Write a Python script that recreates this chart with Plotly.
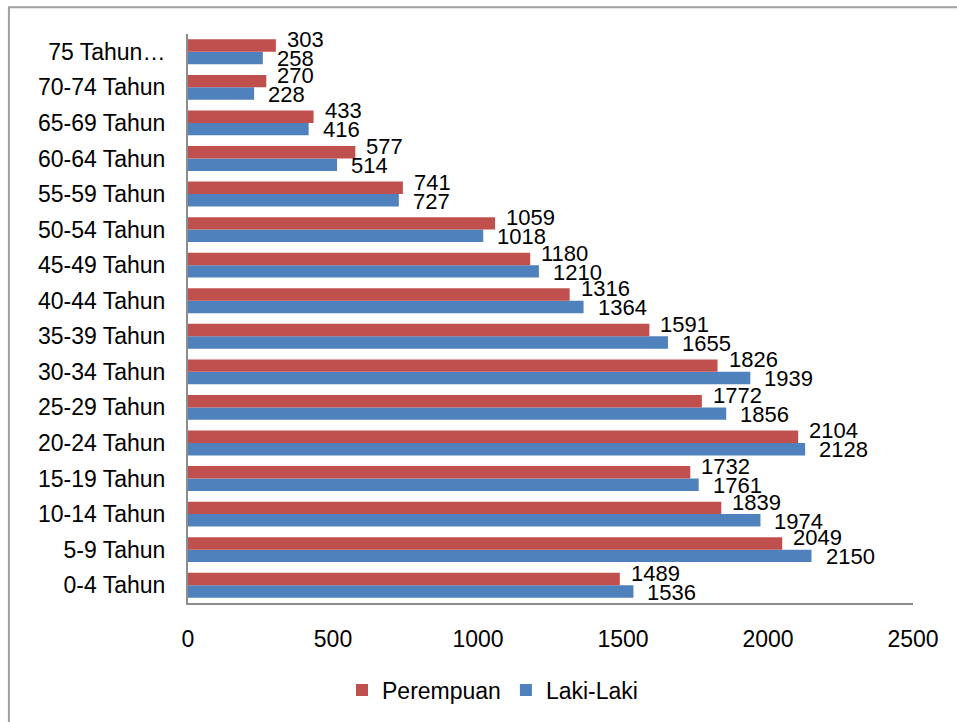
import plotly.graph_objects as go

categories = ["0-4 Tahun", "5-9 Tahun", "10-14 Tahun", "15-19 Tahun", "20-24 Tahun",
              "25-29 Tahun", "30-34 Tahun", "35-39 Tahun", "40-44 Tahun", "45-49 Tahun",
              "50-54 Tahun", "55-59 Tahun", "60-64 Tahun", "65-69 Tahun", "70-74 Tahun",
              "75 Tahun…"]
perempuan = [1489, 2049, 1839, 1732, 2104, 1772, 1826, 1591, 1316, 1180, 1059, 741, 577, 433, 270, 303]
laki_laki = [1536, 2150, 1974, 1761, 2128, 1856, 1939, 1655, 1364, 1210, 1018, 727, 514, 416, 228, 258]
x_ticks = [0, 500, 1000, 1500, 2000, 2500]

FONT = "Liberation Sans, Arial, sans-serif"
FS = 22
TFS = 23
RED = "#C0504D"
BLUE = "#4F81BD"

fig = go.Figure()
fig.add_trace(go.Bar(
    y=categories, x=laki_laki, orientation="h", name="Laki-Laki",
    marker=dict(color=BLUE, line=dict(width=0)),
))
fig.add_trace(go.Bar(
    y=categories, x=perempuan, orientation="h", name="Perempuan",
    marker=dict(color=RED, line=dict(width=0)),
))

# data labels placed at each bar's end (through the axis scales)
annotations = []
for cat, v in zip(categories, perempuan):
    annotations.append(dict(x=v, y=cat, xref="x", yref="y", text=str(v), showarrow=False,
                            xanchor="left", yanchor="middle", xshift=9, yshift=12,
                            font=dict(family=FONT, size=FS, color="black")))
for cat, v in zip(categories, laki_laki):
    annotations.append(dict(x=v, y=cat, xref="x", yref="y", text=str(v), showarrow=False,
                            xanchor="left", yanchor="middle", xshift=12, yshift=-7,
                            font=dict(family=FONT, size=FS, color="black")))

fig.update_layout(
    width=957, height=722,
    margin=dict(l=188, r=44, t=34, b=118),
    paper_bgcolor="white", plot_bgcolor="white",
    barmode="group", bargap=0.3, bargroupgap=0,
    font=dict(family=FONT, size=FS, color="black"),
    showlegend=True,
    legend=dict(orientation="h", x=0.42, xanchor="center", y=-0.151, yanchor="middle",
                traceorder="reversed", font=dict(family=FONT, size=TFS, color="black"),
                itemwidth=30),
    xaxis=dict(range=[0, 2500], tickvals=x_ticks, showgrid=False, zeroline=False,
               showline=True, linecolor="#8C8C8C", linewidth=2, automargin=False,
               ticks="outside", ticklen=14, tickcolor="rgba(0,0,0,0)",
               tickfont=dict(family=FONT, size=TFS, color="black")),
    yaxis=dict(range=[-0.5, len(categories) - 0.5], autorange=False,
               showgrid=False, zeroline=False, showline=True, linecolor="#8C8C8C", linewidth=2,
               automargin=False,
               ticks="outside", ticklen=16, tickcolor="rgba(0,0,0,0)",
               tickfont=dict(family=FONT, size=TFS, color="black")),
    annotations=annotations,
    shapes=[dict(type="rect", xref="paper", yref="paper",
                 x0=-0.247, x1=1.2, y0=-0.4, y1=1.047,
                 line=dict(color="#A0A0A0", width=2), fillcolor="rgba(0,0,0,0)", layer="below")],
)

fig.write_html("out.html", config={"displayModeBar": False},
               post_script="document.body.style.margin='0px';")
